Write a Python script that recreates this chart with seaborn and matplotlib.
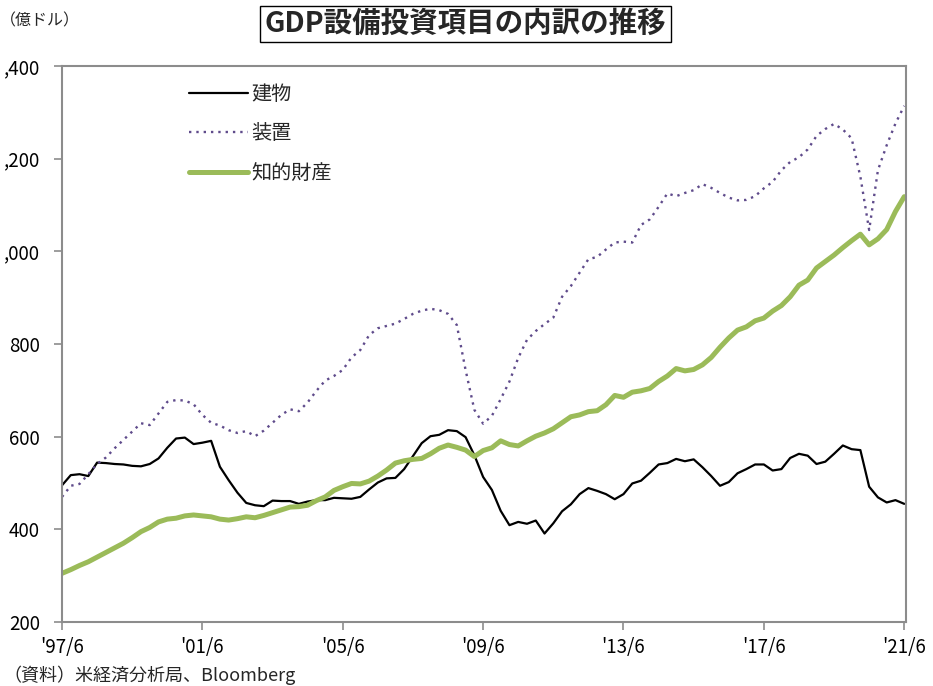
import matplotlib
matplotlib.use("Agg")
import matplotlib.pyplot as plt
import seaborn as sns

# quarterly values, '97/6 .. '21/6 (億ドル)
building = [495, 517, 519, 515, 544, 543, 541, 540, 537, 536,
            541, 553, 576, 596, 598, 584, 587, 591, 535, 506,
            479, 457, 452, 450, 462, 461, 461, 455, 460, 463,
            463, 468, 467, 466, 470, 486, 501, 510, 511, 530,
            558, 586, 601, 604, 614, 612, 599, 560, 513, 485,
            440, 409, 416, 412, 419, 391, 413, 439, 454, 476,
            489, 483, 476, 465, 476, 499, 505, 522, 540, 543,
            552, 547, 551, 534, 515, 494, 502, 521, 530, 540,
            540, 527, 530, 554, 563, 559, 541, 546, 563, 581,
            573, 571, 492, 469, 458, 463, 455]
equipment = [470, 494, 498, 519, 541, 555, 575, 593, 611, 629,
             625, 650, 675, 679, 678, 670, 647, 630, 624, 614,
             608, 612, 601, 613, 630, 647, 659, 655, 674, 699,
             721, 731, 744, 771, 787, 819, 834, 839, 844, 854,
             865, 872, 876, 873, 865, 841, 744, 658, 628, 645,
             681, 719, 770, 809, 828, 843, 857, 902, 925, 954,
             983, 988, 1004, 1019, 1021, 1019, 1057, 1069, 1096, 1125,
             1119, 1126, 1132, 1145, 1137, 1126, 1116, 1110, 1111, 1119,
             1136, 1150, 1175, 1193, 1203, 1220, 1249, 1264, 1275, 1263,
             1244, 1161, 1046, 1175, 1229, 1276, 1314]
ip_products = [305, 313, 322, 330, 340, 350, 360, 370, 382, 395,
               404, 416, 422, 424, 429, 431, 429, 427, 422, 420,
               423, 427, 425, 430, 436, 442, 448, 449, 452, 462,
               470, 484, 492, 499, 498, 504, 515, 528, 543, 548,
               551, 553, 563, 575, 582, 577, 571, 557, 570, 576,
               591, 583, 580, 591, 601, 608, 617, 630, 643, 647,
               654, 656, 669, 689, 685, 696, 699, 704, 719, 731,
               747, 742, 745, 755, 771, 793, 813, 830, 837, 850,
               856, 871, 883, 902, 927, 938, 964, 978, 992, 1008,
               1023, 1037, 1014, 1027, 1047, 1086, 1118]
quarters = list(range(len(building)))

tick_labels = ["'97/6", "'01/6", "'05/6", "'09/6", "'13/6", "'17/6", "'21/6"]
tick_pos = [0, 16, 32, 48, 64, 80, 96]
y_ticks = [200, 400, 600, 800, 1000, 1200, 1400]
# as printed in the source (the leading "1" is cut off by the page edge)
y_tick_labels = ["200", "400", "600", "800", ",000", ",200", ",400"]

sns.set_theme(style="white")
plt.rcParams["font.family"] = ["Noto Sans CJK JP", "DejaVu Sans"]

fig = plt.figure(figsize=(9.33, 6.86), dpi=100)
ax = fig.add_axes([62 / 933, 1 - 622 / 686, (906 - 62) / 933, (622 - 66) / 686])

sns.lineplot(x=quarters, y=building, ax=ax, color="black", linewidth=1.6, label="建物")
sns.lineplot(x=quarters, y=equipment, ax=ax, color="#5f4b8b", linewidth=1.7,
             linestyle=(0, (1, 2.1)), label="装置")
sns.lineplot(x=quarters, y=ip_products, ax=ax, color="#9bbb59", linewidth=3.6,
             label="知的財産")

ax.set_xlim(0, 96.2)
ax.set_ylim(200, 1400)
ax.set_xticks(tick_pos)
ax.set_xticklabels(tick_labels)
ax.set_yticks(y_ticks)
ax.set_yticklabels(y_tick_labels)
ax.tick_params(axis="both", labelsize=13.5, colors="black", bottom=True, left=True,
               direction="out", length=6, width=1.2, color="#8c8c8c")
ax.tick_params(axis="y", pad=10)
ax.tick_params(axis="x", pad=5)
for s in ax.spines.values():
    s.set_color("#8c8c8c")
    s.set_linewidth(1.5)

ax.legend(loc="upper left", bbox_to_anchor=(0.1295, 1.001), frameon=False,
          fontsize=14.5, handlelength=2.9, handletextpad=0.15, labelspacing=0.93)

fig.text(0.499, 0.965, "GDP設備投資項目の内訳の推移", ha="center", va="center",
         fontsize=20.5, fontweight="bold",
         bbox=dict(boxstyle="square,pad=0.15", fc="white", ec="black", lw=1))
fig.text(0.0, 0.970, "（億ドル）", ha="left", va="center", fontsize=11.5)
fig.text(0.004, 0.015, "（資料）米経済分析局、Bloomberg", ha="left", va="center", fontsize=13)

fig.savefig("out.png", dpi=100)
